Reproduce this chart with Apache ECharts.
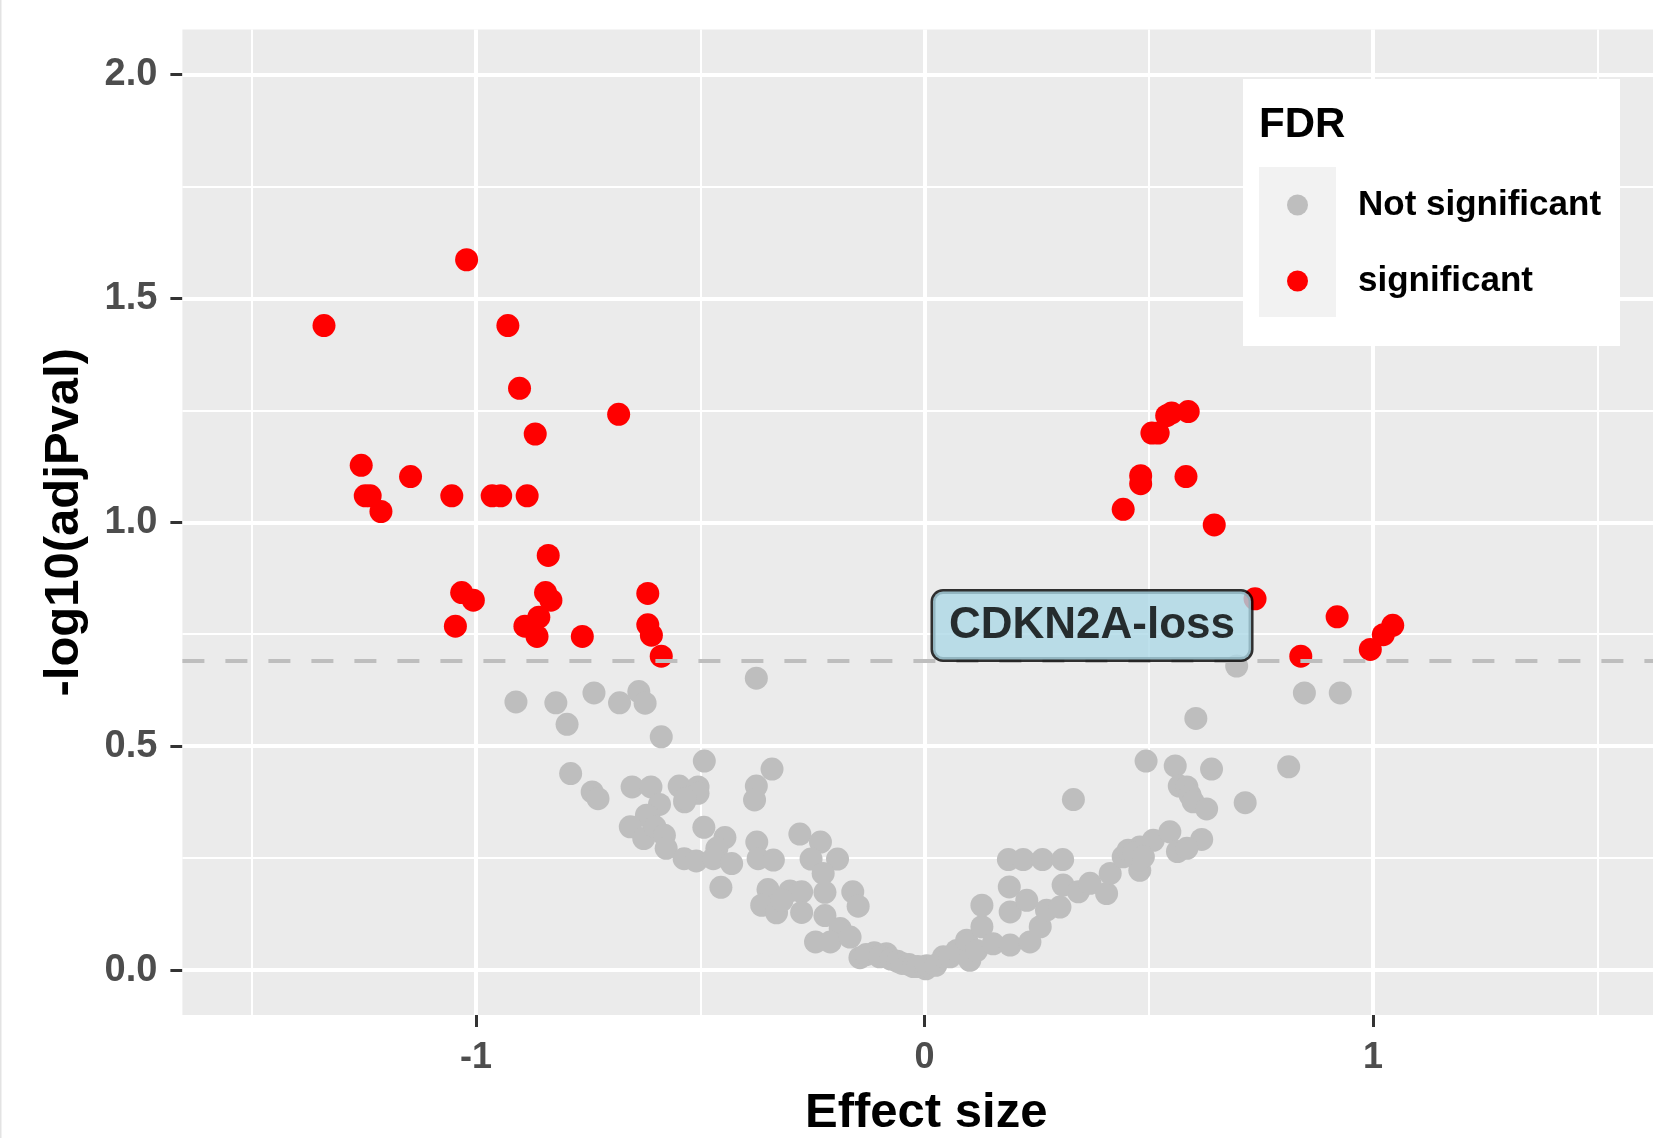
<!DOCTYPE html>
<html><head><meta charset="utf-8">
<script src="https://cdn.jsdelivr.net/npm/echarts@6/dist/echarts.min.js"></script>
<style>html,body{margin:0;padding:0;background:#fff}#chart{width:1653px;height:1138px}</style>
</head><body><div id="chart"></div>
<script>
// ---- data ----
const xTicks = [-1, 0, 1];
const yTicks = [0, 0.5, 1, 1.5, 2];
const xMajorGrid = [-1, 0, 1];
const xMinorGrid = [-1.5, -0.5, 0.5, 1.5];
const yMajorGrid = [0, 0.5, 1, 1.5, 2];
const yMinorGrid = [0.25, 0.75, 1.25, 1.75];
const fdrThreshold = 0.688;
const seriesNames = ['Not significant', 'significant'];
const notSignificant = [
  [-0.911,0.599],[-0.822,0.597],[-0.797,0.549],[-0.737,0.619],[-0.680,0.597],[-0.637,0.622],[-0.623,0.596],[-0.587,0.521],[-0.375,0.652],
  [-0.491,0.467],[-0.789,0.439],[-0.741,0.398],[-0.728,0.383],[-0.652,0.409],[-0.610,0.409],[-0.591,0.370],[-0.547,0.411],[-0.505,0.409],
  [-0.535,0.376],[-0.505,0.395],[-0.534,0.383],[-0.340,0.449],[-0.375,0.411],[-0.379,0.380],
  [-0.615,0.342],[-0.620,0.346],[-0.656,0.320],[-0.626,0.294],[-0.601,0.320],[-0.580,0.301],[-0.576,0.272],[-0.492,0.319],[-0.445,0.296],
  [-0.463,0.272],[-0.536,0.249],[-0.509,0.244],[-0.471,0.249],[-0.430,0.238],[-0.374,0.286],[-0.371,0.249],[-0.337,0.246],[-0.454,0.185],
  [-0.278,0.304],[-0.232,0.286],[-0.253,0.248],[-0.194,0.248],[-0.226,0.216],
  [-0.349,0.180],[-0.363,0.145],[-0.330,0.128],[-0.300,0.177],[-0.274,0.175],[-0.274,0.129],[-0.318,0.156],[-0.222,0.174],[-0.160,0.175],
  [-0.148,0.143],[-0.222,0.122],[-0.188,0.093],[-0.243,0.063],[-0.210,0.063],[-0.166,0.074],[-0.144,0.028],[-0.112,0.039],[-0.085,0.037],
  [-0.130,0.035],[-0.100,0.030],[-0.075,0.025],[-0.060,0.020],[-0.050,0.015],[-0.035,0.013],[-0.025,0.008],[-0.015,0.008],[0.003,0.003],
  [0.005,0.010],[0.025,0.011],[0.042,0.030],[0.057,0.030],[0.072,0.044],[0.101,0.022],[0.094,0.067],[0.116,0.044],[0.128,0.097],
  [0.128,0.145],[0.153,0.059],[0.191,0.056],[0.189,0.186],[0.191,0.130],[0.187,0.247],[0.220,0.247],[0.263,0.247],[0.308,0.247],
  [0.228,0.156],[0.235,0.063],[0.258,0.097],[0.272,0.134],[0.302,0.141],[0.309,0.190],[0.343,0.175],[0.369,0.194],[0.406,0.171],
  [0.414,0.216],[0.443,0.253],[0.454,0.268],[0.480,0.223],[0.480,0.275],[0.510,0.290],[0.547,0.309],[0.466,0.261],[0.488,0.253],
  [0.332,0.381],[0.494,0.467],[0.559,0.456],[0.640,0.449],[0.812,0.454],[0.568,0.411],[0.585,0.409],[0.592,0.391],[0.599,0.376],
  [0.629,0.360],[0.715,0.374],[0.618,0.292],[0.564,0.265],[0.585,0.272],[0.605,0.562],[0.696,0.679],[0.847,0.619],[0.927,0.619]
];
const significant = [
  [-1.021,1.586],[-1.339,1.439],[-0.929,1.439],[-0.903,1.299],[-0.682,1.241],[-0.868,1.197],[-1.256,1.127],[-1.146,1.102],
  [-1.247,1.059],[-1.236,1.059],[-1.212,1.024],[-1.054,1.059],[-0.964,1.059],[-0.945,1.059],[-0.886,1.059],[-0.839,0.926],
  [-1.032,0.843],[-1.006,0.826],[-0.845,0.843],[-0.833,0.826],[-0.860,0.788],[-0.891,0.768],[-0.864,0.745],[-1.046,0.768],
  [-0.763,0.745],[-0.617,0.841],[-0.617,0.771],[-0.609,0.748],[-0.587,0.701],
  [0.540,1.238],[0.551,1.244],[0.588,1.247],[0.507,1.199],[0.521,1.199],[0.482,1.104],[0.482,1.086],[0.583,1.102],[0.443,1.029],
  [0.646,0.994],[0.737,0.829],[0.920,0.789],[0.839,0.701],[0.994,0.716],[1.023,0.749],[1.044,0.770]
];
const annotationText = 'CDKN2A-loss';
const annotationAt = [0.3735, 0.7695];

// ---- chart ----
const FONT = "'Liberation Sans', Arial, Helvetica, sans-serif";
const chart = echarts.init(document.getElementById('chart'), null, {renderer: 'canvas'});
const gridLines = [].concat(
  xMinorGrid.map(v => ({xAxis: v, lineStyle: {color: '#fff', width: 2, type: 'solid'}})),
  yMinorGrid.map(v => ({yAxis: v, lineStyle: {color: '#fff', width: 2, type: 'solid'}})),
  xMajorGrid.map(v => ({xAxis: v, lineStyle: {color: '#fff', width: 4, type: 'solid'}})),
  yMajorGrid.map(v => ({yAxis: v, lineStyle: {color: '#fff', width: 4, type: 'solid'}}))
);
chart.setOption({
  animation: false,
  backgroundColor: '#fff',
  grid: {left: 182.4, right: 0, top: 29.5, bottom: 123, show: true, backgroundColor: '#EBEBEB', borderWidth: 0,
    containLabel: false, outerBoundsMode: 'none'},
  xAxis: {
    type: 'value', min: -1.6547, max: 1.6243,
    splitLine: {show: false}, axisLine: {show: false, onZero: false},
    axisTick: {show: true, customValues: xTicks, length: 12, lineStyle: {color: '#333', width: 3}},
    axisLabel: {customValues: xTicks, margin: 25, fontSize: 36, fontWeight: 'bold', color: '#4D4D4D', fontFamily: FONT,
      formatter: v => String(v)},
    name: 'Effect size', nameLocation: 'middle', nameGap: 74,
    nameTextStyle: {fontSize: 49, fontWeight: 'bold', color: '#000', fontFamily: FONT, padding: [0, 0, 0, 17]}
  },
  yAxis: {
    type: 'value', min: -0.1, max: 2.1,
    splitLine: {show: false}, axisLine: {show: false, onZero: false},
    axisTick: {show: true, customValues: yTicks, length: 12, lineStyle: {color: '#333', width: 3}},
    axisLabel: {customValues: yTicks, margin: 25, fontSize: 38, fontWeight: 'bold', color: '#4D4D4D', fontFamily: FONT,
      formatter: v => Number(v).toFixed(1)},
    name: '-log10(adjPval)', nameLocation: 'middle', nameGap: 93,
    nameTextStyle: {fontSize: 49, fontWeight: 'bold', color: '#000', fontFamily: FONT}
  },
  legend: {
    data: seriesNames, orient: 'vertical', left: 1282, top: 180, z: 10,
    itemWidth: 21, itemHeight: 21, itemGap: 36, icon: 'circle',
    textStyle: {fontSize: 35, fontWeight: 'bold', color: '#000', fontFamily: FONT, lineHeight: 40, padding: [0, 0, 0, 45]}
  },
  graphic: [
    {type: 'rect', z: 6, silent: true, shape: {x: 1243, y: 79, width: 377, height: 267}, style: {fill: '#fff'}},
    {type: 'rect', z: 7, silent: true, shape: {x: 1259, y: 167, width: 77, height: 150}, style: {fill: '#F2F2F2'}},
    {type: 'text', z: 7, silent: true, style: {x: 1259, y: 125, text: 'FDR', font: "bold 42px 'Liberation Sans', Arial, sans-serif", fill: '#000', verticalAlign: 'middle'}},
    {type: 'rect', z: 7, silent: true, shape: {x: 0, y: 0, width: 1.5, height: 1138}, style: {fill: '#E3E3E3'}}
  ],
  series: [
    {name: 'gridlines', type: 'scatter', data: [], silent: true,
      markLine: {silent: true, symbol: 'none', z: 1, label: {show: false}, data: gridLines}},
    {name: seriesNames[0], type: 'scatter', data: notSignificant, symbolSize: 23, z: 2,
      itemStyle: {color: '#BEBEBE', opacity: 1}},
    {name: seriesNames[1], type: 'scatter', data: significant, symbolSize: 23, z: 3,
      itemStyle: {color: '#FF0000', opacity: 1},
      markLine: {silent: true, symbol: 'none', z: 5, label: {show: false},
        data: [{yAxis: fdrThreshold, lineStyle: {color: '#BEBEBE', width: 4, type: [22, 21]}}]}},
    {name: 'annotation', type: 'scatter', data: [annotationAt], symbolSize: 1, z: 8, silent: true,
      itemStyle: {color: 'rgba(0,0,0,0)'},
      label: {show: true, position: 'inside', formatter: annotationText, backgroundColor: '#ADD8E6',
        borderColor: '#000', borderWidth: 2.5, borderRadius: 10, padding: [10, 16], lineHeight: 48,
        fontSize: 44, fontWeight: 'bold', color: '#000', fontFamily: FONT}}
  ]
});
</script>
</body></html>
